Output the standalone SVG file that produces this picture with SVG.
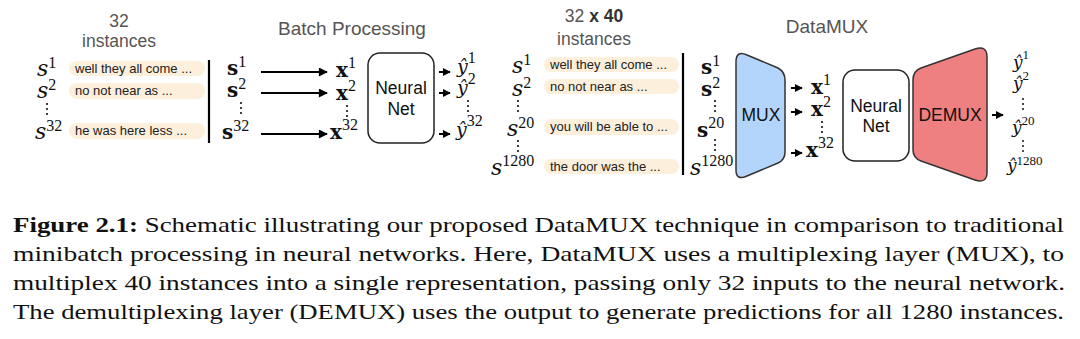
<svg xmlns="http://www.w3.org/2000/svg" width="1080" height="339" viewBox="0 0 1080 339">
<defs>
<marker id="ah" viewBox="0 0 10 10" refX="9" refY="5" markerWidth="10" markerHeight="9" markerUnits="userSpaceOnUse" orient="auto"><path d="M0,0 L10,5 L0,10 z" fill="#000"/></marker>
<marker id="ahs" viewBox="0 0 10 10" refX="9" refY="5" markerWidth="8" markerHeight="8" markerUnits="userSpaceOnUse" orient="auto"><path d="M0,0 L10,5 L0,10 z" fill="#000"/></marker>
</defs>
<style>
.hdr{font-family:"Liberation Sans",Arial,sans-serif;font-size:19px;fill:#555;text-anchor:middle}
.sub{font-family:"Liberation Sans",Arial,sans-serif;font-size:17.5px;fill:#555;text-anchor:middle}
.pill{fill:#fcefdc}
.pt{font-family:"Liberation Sans",Arial,sans-serif;font-size:13px;fill:#222}
.mi{font-family:"DejaVu Serif",serif;font-style:italic;font-size:22px;fill:#111}
.mb{font-family:"DejaVu Serif",serif;font-weight:bold;font-size:20px;fill:#111}
.yh{font-family:"DejaVu Serif",serif;font-style:italic;font-size:19px;fill:#111}
.yh2{font-family:"DejaVu Serif",serif;font-style:italic;font-size:17px;fill:#111}
.sp{font-family:"Liberation Serif","Times New Roman",serif;font-style:normal;font-weight:normal;font-size:16px}
.sps{font-family:"Liberation Serif","Times New Roman",serif;font-style:normal;font-weight:normal;font-size:13px}
.box{fill:#fff;stroke:#222;stroke-width:1.5}
.bl{font-family:"Liberation Sans",Arial,sans-serif;font-size:17.5px;fill:#111;text-anchor:middle}
.bar{stroke:#000;stroke-width:2.2}
.arr{stroke:#000;stroke-width:2;fill:none;marker-end:url(#ah)}
.arrs{stroke:#000;stroke-width:2;fill:none;marker-end:url(#ahs)}
.dot{fill:#111}
.cap{font-family:"Liberation Serif","Times New Roman",serif;font-size:22px;fill:#111}
</style>

<g id="batch-inputs">
<text class="sub" x="119" y="27">32</text>
<text class="sub" x="119" y="47">instances</text>
<text class="mi" x="37" y="76">s<tspan class="sp" dy="-8">1</tspan></text>
<text class="mi" x="37" y="98">s<tspan class="sp" dy="-8">2</tspan></text>
<g class="dot"><circle cx="47" cy="104" r="1.1"/><circle cx="47" cy="109" r="1.1"/><circle cx="47" cy="114" r="1.1"/></g>
<text class="mi" x="35" y="139">s<tspan class="sp" dy="-8">32</tspan></text>
<rect class="pill" x="69" y="61" width="136" height="15" rx="7.5"/>
<rect class="pill" x="69" y="83" width="136" height="16" rx="8"/>
<rect class="pill" x="69" y="123" width="136" height="16" rx="8"/>
<text class="pt" x="75" y="73">well they all come ...</text>
<text class="pt" x="75" y="95">no not near as ...</text>
<text class="pt" x="75" y="135">he was here less ...</text>
<line class="bar" x1="209" y1="60" x2="209" y2="143"/>
</g>

<g id="batch-tokens">
<text class="mb" x="227" y="75">s<tspan class="sp" dy="-8">1</tspan></text>
<text class="mb" x="227" y="97">s<tspan class="sp" dy="-8">2</tspan></text>
<g class="dot"><circle cx="241" cy="103" r="1.1"/><circle cx="241" cy="108" r="1.1"/><circle cx="241" cy="113" r="1.1"/></g>
<text class="mb" x="222" y="139">s<tspan class="sp" dy="-8">32</tspan></text>
</g>

<g id="batch-title"><text class="hdr" x="352" y="35">Batch Processing</text></g>

<g id="batch-x">
<text class="mb" x="336" y="77">x<tspan class="sp" dy="-9">1</tspan></text>
<text class="mb" x="336" y="100">x<tspan class="sp" dy="-9">2</tspan></text>
<g class="dot"><circle cx="347" cy="106" r="1.1"/><circle cx="347" cy="111" r="1.1"/><circle cx="347" cy="116" r="1.1"/></g>
<text class="mb" x="330" y="139">x<tspan class="sp" dy="-9">32</tspan></text>
</g>

<g id="batch-nn">
<rect class="box" x="368" y="53" width="66" height="90" rx="12"/>
<text class="bl" x="401" y="94">Neural</text>
<text class="bl" x="401" y="115">Net</text>
</g>

<g id="batch-out">
<text class="yh" x="457" y="73">ŷ<tspan class="sp" dy="-10">1</tspan></text>
<text class="yh" x="457" y="94">ŷ<tspan class="sp" dy="-10">2</tspan></text>
<g class="dot"><circle cx="468" cy="101" r="1.1"/><circle cx="468" cy="106" r="1.1"/><circle cx="468" cy="111" r="1.1"/></g>
<text class="yh" x="456" y="136">ŷ<tspan class="sp" dy="-10">32</tspan></text>
</g>

<g id="mux-inputs">
<text class="sub" x="594" y="22">32 <tspan font-weight="bold" fill="#333">x 40</tspan></text>
<text class="sub" x="594" y="45">instances</text>
<text class="mi" x="512" y="73">s<tspan class="sp" dy="-8">1</tspan></text>
<text class="mi" x="512" y="96">s<tspan class="sp" dy="-8">2</tspan></text>
<g class="dot"><circle cx="518" cy="101" r="1.1"/><circle cx="518" cy="106" r="1.1"/><circle cx="518" cy="111" r="1.1"/></g>
<text class="mi" x="507" y="136">s<tspan class="sp" dy="-8">20</tspan></text>
<g class="dot"><circle cx="518" cy="141" r="1.1"/><circle cx="518" cy="146" r="1.1"/><circle cx="518" cy="151" r="1.1"/></g>
<text class="mi" x="491" y="175">s<tspan class="sp" dy="-9">1280</tspan></text>
<rect class="pill" x="544" y="57" width="135" height="15" rx="7.5"/>
<rect class="pill" x="544" y="79" width="135" height="15" rx="7.5"/>
<rect class="pill" x="544" y="119" width="135" height="16" rx="8"/>
<rect class="pill" x="544" y="159" width="135" height="15" rx="7.5"/>
<text class="pt" x="550" y="69">well they all come ...</text>
<text class="pt" x="550" y="91">no not near as ...</text>
<text class="pt" x="550" y="131">you will be able to ...</text>
<text class="pt" x="550" y="171">the door was the ...</text>
<line class="bar" x1="683" y1="53" x2="683" y2="175"/>
</g>

<g id="mux-tokens">
<text class="mb" x="701" y="74">s<tspan class="sp" dy="-8">1</tspan></text>
<text class="mb" x="701" y="96">s<tspan class="sp" dy="-8">2</tspan></text>
<g class="dot"><circle cx="715" cy="101" r="1.1"/><circle cx="715" cy="106" r="1.1"/><circle cx="715" cy="111" r="1.1"/></g>
<text class="mb" x="697" y="137">s<tspan class="sp" dy="-9">20</tspan></text>
<g class="dot"><circle cx="715" cy="140" r="1.1"/><circle cx="715" cy="145" r="1.1"/><circle cx="715" cy="150" r="1.1"/></g>
<text class="mi" x="690" y="175">s<tspan class="sp" dy="-9">1280</tspan></text>
</g>

<g id="datamux-title"><text class="hdr" x="827" y="33">DataMUX</text></g>

<g id="mux">
<path d="M736,62 Q736,50 747,55 L778,68 Q785,72 785,80 L785,152 Q785,160 778,163 L747,176 Q736,181 736,170 Z" fill="#b4d5fb" stroke="#333" stroke-width="1.5"/>
<text class="bl" x="761" y="121">MUX</text>
</g>

<g id="mux-x">
<text class="mb" x="811" y="94">x<tspan class="sp" dy="-9">1</tspan></text>
<text class="mb" x="811" y="116">x<tspan class="sp" dy="-9">2</tspan></text>
<g class="dot"><circle cx="822" cy="122" r="1.1"/><circle cx="822" cy="127" r="1.1"/><circle cx="822" cy="132" r="1.1"/></g>
<text class="mb" x="806" y="157">x<tspan class="sp" dy="-9">32</tspan></text>
</g>

<g id="mux-nn">
<rect class="box" x="843" y="70" width="66" height="91" rx="12"/>
<text class="bl" x="876" y="112">Neural</text>
<text class="bl" x="876" y="132">Net</text>
</g>

<g id="demux">
<path d="M913,80 Q913,71 921,68 L975,49 Q987,45 987,57 L987,172 Q987,184 975,180 L921,161 Q913,158 913,150 Z" fill="#ef8082" stroke="#333" stroke-width="1.5"/>
<text class="bl" x="950" y="121">DEMUX</text>
</g>

<g id="mux-out">
<text class="yh2" x="1013" y="68">ŷ<tspan class="sps" dy="-9">1</tspan></text>
<text class="yh2" x="1013" y="89">ŷ<tspan class="sps" dy="-9">2</tspan></text>
<g class="dot"><circle cx="1023" cy="99" r="1"/><circle cx="1023" cy="104" r="1"/><circle cx="1023" cy="109" r="1"/></g>
<text class="yh2" x="1012" y="133">ŷ<tspan class="sps" dy="-8">20</tspan></text>
<g class="dot"><circle cx="1023" cy="141" r="1"/><circle cx="1023" cy="146" r="1"/><circle cx="1023" cy="151" r="1"/></g>
<text class="yh2" x="1007" y="171">ŷ<tspan class="sps" dy="-6">1280</tspan></text>
</g>

<g id="connectors">
<line class="arr" x1="261" y1="72" x2="327" y2="72"/>
<line class="arr" x1="261" y1="93" x2="327" y2="93"/>
<line class="arr" x1="261" y1="134" x2="327" y2="134"/>
<line class="arrs" x1="439" y1="72" x2="450" y2="72"/>
<line class="arrs" x1="439" y1="93" x2="450" y2="93"/>
<line class="arrs" x1="439" y1="134" x2="450" y2="134"/>
<line class="arrs" x1="791" y1="88" x2="802" y2="88"/>
<line class="arrs" x1="791" y1="112" x2="802" y2="112"/>
<line class="arrs" x1="791" y1="153" x2="802" y2="153"/>
<line class="arrs" x1="992" y1="115" x2="1003" y2="115"/>
</g>

<g id="caption">
<text class="cap" x="13" y="232" textLength="1051" lengthAdjust="spacingAndGlyphs"><tspan font-weight="bold">Figure 2.1:</tspan> Schematic illustrating our proposed DataMUX technique in comparison to traditional</text>
<text class="cap" x="13" y="261" textLength="1051" lengthAdjust="spacingAndGlyphs">minibatch processing in neural networks. Here, DataMUX uses a multiplexing layer (MUX), to</text>
<text class="cap" x="13" y="290" textLength="1052" lengthAdjust="spacingAndGlyphs">multiplex 40 instances into a single representation, passing only 32 inputs to the neural network.</text>
<text class="cap" x="13" y="319" textLength="1051" lengthAdjust="spacingAndGlyphs">The demultiplexing layer (DEMUX) uses the output to generate predictions for all 1280 instances.</text>
</g>
</svg>
